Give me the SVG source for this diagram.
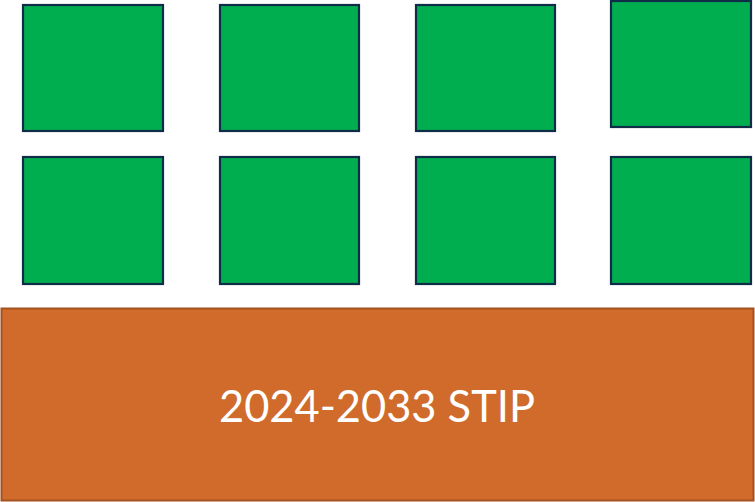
<svg xmlns="http://www.w3.org/2000/svg" width="755" height="502" viewBox="0 0 755 502">
<style>
.g{fill:#00AD4F;stroke:#102D48;stroke-width:2.2}
.o{fill:#D06B2C;stroke:#A4521F;stroke-width:2}
.t{fill:#fff;font-family:Lato,"Open Sans",sans-serif;font-size:44px}
</style>
<rect width="755" height="502" fill="#fff"/>
<g id="box1"><rect class="g" x="23" y="5" width="140" height="126"/></g>
<g id="box2"><rect class="g" x="220" y="5" width="139" height="126"/></g>
<g id="box3"><rect class="g" x="416" y="5" width="139" height="126"/></g>
<g id="box4"><rect class="g" x="611" y="1" width="140" height="126"/></g>
<g id="box5"><rect class="g" x="23" y="157" width="140" height="127"/></g>
<g id="box6"><rect class="g" x="220" y="157" width="139" height="127"/></g>
<g id="box7"><rect class="g" x="416" y="157" width="139" height="127"/></g>
<g id="box8"><rect class="g" x="611" y="157" width="140" height="127"/></g>
<g id="stip"><rect class="o" x="1.5" y="308.5" width="752" height="192"/>
<text class="t" x="219" y="422" textLength="316" lengthAdjust="spacingAndGlyphs">2024-2033 STIP</text></g>
<g id="connectors"></g>
</svg>
